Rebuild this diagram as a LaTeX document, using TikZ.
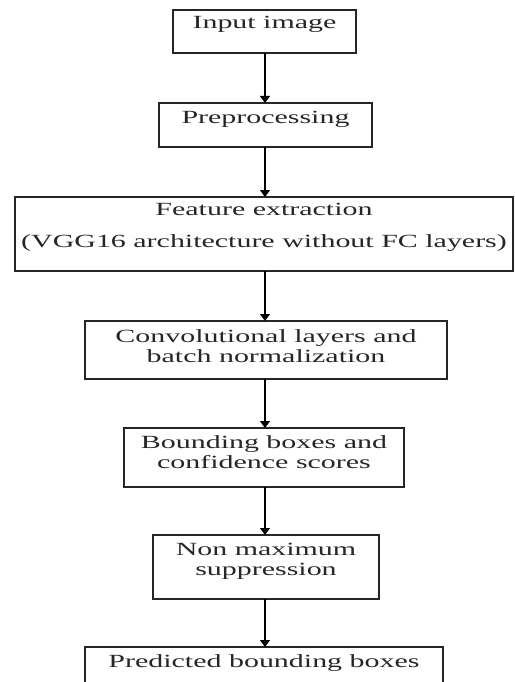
\documentclass[tikz,border=0pt]{standalone}
\usepackage{fontspec}
\setmainfont[FakeStretch=1.61]{Liberation Serif}
\usetikzlibrary{arrows.meta}
\tikzset{
  box/.style={draw=black!85, line width=1.2pt, inner sep=0pt, outer sep=0pt},
  txt/.style={anchor=base, inner sep=0pt, font=\fontsize{18.6}{20}\selectfont, text=black!85},
  arr/.style={draw=black, line width=1.2pt, -{Triangle[length=7pt,width=10pt]}}
}
\begin{document}
\begin{tikzpicture}[x=1pt,y=-1pt]
\useasboundingbox (0,0) rectangle (514,682);
\clip (0,0) rectangle (514,682);
\fill[white] (0,0) rectangle (514,682);
\coordinate (ax) at (265,0);
% boxes
\node[box, minimum width=183pt, minimum height=43pt] (b1) at (264.5,31.5) {};
\node[box, minimum width=213pt, minimum height=44pt] (b2) at (265.5,125) {};
\node[box, minimum width=498pt, minimum height=74pt] (b3) at (264,234) {};
\node[box, minimum width=362pt, minimum height=58pt] (b4) at (266,350) {};
\node[box, minimum width=280pt, minimum height=59pt] (b5) at (264,457.5) {};
\node[box, minimum width=226pt, minimum height=64pt] (b6) at (266,567) {};
\node[box, minimum width=358pt, minimum height=70pt] (b7) at (264,682) {};
% texts
\node[txt] (t1) at (264.5,28.5) {Input image};
\node[txt] (t2) at (265.5,124) {Preprocessing};
\node[txt] (t3a) at (264,215) {Feature extraction};
\node[txt] (t3b) at (264,247) {(VGG16 architecture without FC layers)};
\node[txt] (t4a) at (266,342) {Convolutional layers and};
\node[txt] (t4b) at (266,362) {batch normalization};
\node[txt] (t5a) at (264,448.5) {Bounding boxes and};
\node[txt] (t5b) at (264,468.5) {confidence scores};
\node[txt] (t6a) at (266,555.5) {Non maximum};
\node[txt] (t6b) at (266,575.5) {suppression};
\node[txt] (t7) at (264,667) {Predicted bounding boxes};
% arrows
\draw[arr] (b1.south -| ax) -- (b2.north -| ax);
\draw[arr] (b2.south -| ax) -- (b3.north -| ax);
\draw[arr] (b3.south -| ax) -- (b4.north -| ax);
\draw[arr] (b4.south -| ax) -- (b5.north -| ax);
\draw[arr] (b5.south -| ax) -- (b6.north -| ax);
\draw[arr] (b6.south -| ax) -- (b7.north -| ax);
\end{tikzpicture}
\end{document}
